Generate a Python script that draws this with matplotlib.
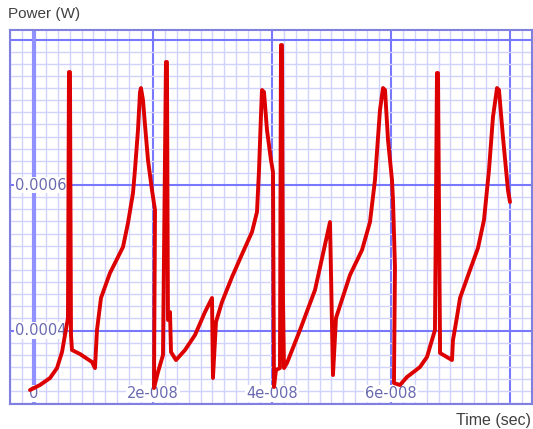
import matplotlib
matplotlib.use("Agg")
import matplotlib.pyplot as plt
import matplotlib.transforms as mtransforms
from matplotlib.ticker import MultipleLocator
import numpy as np

# Simulated output power of the circuit (time in ns, power in microwatts)
time_ns = [
    -0.67, 1.01, 2.69, 3.87, 4.71, 5.21, 5.71, 5.88, 6.05, 6.22, 6.39, 7.73, 9.75, 10.25,
    10.59, 11.26, 12.77, 14.96, 15.80, 16.64, 16.97, 17.48, 17.82, 17.98, 18.32, 18.66,
    19.16, 19.83, 20.34, 20.17, 20.84, 21.68, 22.18, 22.35, 22.52, 22.86, 23.03, 23.87,
    25.38, 27.06, 28.74, 29.92, 30.08, 30.59, 31.60, 33.28, 35.13, 36.64, 37.48, 37.82,
    38.15, 38.32, 38.66, 39.16, 39.83, 40.17, 40.34, 40.67, 41.34, 41.51, 41.68, 41.85,
    42.02, 42.52, 44.71, 47.23, 49.75, 50.25, 50.76, 53.11, 55.13, 56.47, 57.31, 58.15,
    58.66, 59.00, 59.50, 60.17, 60.34, 60.67, 60.50, 61.51, 62.69, 64.87, 66.05, 66.89,
    67.39, 67.73, 67.90, 68.24, 68.24, 70.25, 70.42, 71.09, 71.60, 73.28, 74.62, 75.63,
    76.47, 77.14, 77.82, 78.15, 78.82, 79.66, 80.00,
]
power_uw = [
    318.2, 325.1, 334.7, 348.4, 370.4, 393.8, 417.2, 755.3, 755.3, 393.8, 373.2, 367.7, 356.7, 348.4,
    400.7, 444.7, 479.0, 514.8, 547.8, 589.0, 620.6, 675.6, 727.8, 733.3, 716.8, 682.5,
    634.4, 593.1, 565.6, 320.9, 342.9, 366.3, 769.1, 769.1, 414.4, 425.4, 370.4, 359.4,
    373.2, 393.8, 425.4, 444.7, 334.7, 411.7, 439.2, 473.5, 507.9, 535.4, 562.9, 620.6,
    696.2, 730.6, 727.8, 675.6, 634.4, 617.9, 322.3, 345.7, 348.4, 792.4, 792.4, 441.9,
    348.4, 355.3, 400.7, 455.7, 549.1, 338.8, 417.2, 476.3, 510.6, 549.1, 606.9, 703.1,
    733.3, 730.6, 661.9, 606.9, 579.4, 487.3, 327.8, 325.1, 336.1, 349.8, 363.6, 386.9,
    400.7, 754.0, 754.0, 382.8, 369.1, 359.4, 386.9, 418.6, 444.7, 483.2, 513.4, 551.9,
    620.6, 693.5, 733.3, 730.6, 666.0, 593.1, 576.6,
]

x_ticks = [0.0, 2e-8, 4e-8, 6e-8]
x_tick_labels = ["0", "2e-008", "4e-008", "6e-008"]
y_ticks = [0.0006, 0.0004]
y_tick_labels = ["0.0006", "0.0004"]

t = np.array(time_ns) * 1e-9
p = np.array(power_uw) * 1e-6

fig = plt.figure(figsize=(5.33, 4.29), dpi=100)
ax = fig.add_axes([10 / 533, 1 - 404 / 429, 522 / 533, 374 / 429])
ax.set_xlim(-4.03e-9, 83.7e-9)
ax.set_ylim(299.0e-6, 813.1e-6)

# graph-paper grid
ax.xaxis.set_major_locator(MultipleLocator(2e-8))
ax.xaxis.set_minor_locator(MultipleLocator(2e-9))
ax.yaxis.set_major_locator(MultipleLocator(2e-4))
ax.yaxis.set_minor_locator(MultipleLocator(2e-4 / 12))
ax.grid(which="minor", color="#d2d2ff", linewidth=1.0)
ax.grid(which="major", color="#7878ff", linewidth=1.5)
ax.set_axisbelow(True)
ax.axvline(0, color="#9090ff", linewidth=3.0, zorder=1.5)
ax.tick_params(which="both", length=0, labelbottom=False, labelleft=False)
for side in ["left", "top", "bottom", "right"]:
    ax.spines[side].set_color("#8080e0")
    ax.spines[side].set_linewidth(1.5)

label_style = dict(fontsize=10.5, color="#6a6ab0", family="DejaVu Sans",
                   bbox=dict(facecolor="white", edgecolor="none", pad=0.5), zorder=2)
xt = mtransforms.blended_transform_factory(ax.transData, ax.transAxes)
for xv, lab in zip(x_ticks, x_tick_labels):
    ax.text(xv, 0.028, lab, ha="center", va="center", transform=xt, **label_style)
yt = mtransforms.blended_transform_factory(ax.transAxes, ax.transData)
for yv, lab in zip(y_ticks, y_tick_labels):
    ax.text(0.009, yv, lab, ha="left", va="center", transform=yt, **label_style)

ax.plot(t, p, color="#dd0000", linewidth=2.8, solid_joinstyle="round",
        solid_capstyle="round", zorder=3)

fig.text(8 / 533, 1 - 14 / 429, "Power (W)", ha="left", va="center",
         fontsize=11, color="#404040", family="Liberation Sans")
fig.text(531 / 533, 1 - 420 / 429, "Time (sec)", ha="right", va="center",
         fontsize=11.5, color="#404040", family="Liberation Sans")

fig.savefig("out.png", dpi=100)
